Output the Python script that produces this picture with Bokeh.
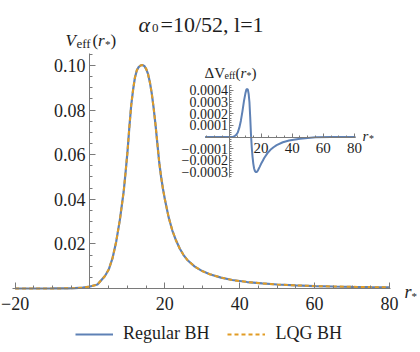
from bokeh.plotting import figure
from bokeh.models import (Range1d, LinearAxis, FixedTicker, Legend, LegendItem)
from bokeh.core.properties import value
from bokeh.embed import file_html
from bokeh.resources import INLINE

# ---------------- data ----------------
r_main = [-20, -15, -10, -6, -4, -2, 0, 2, 4, 5, 6, 7, 8, 9, 9.5, 10, 10.5, 11, 11.5,
          12, 12.5, 13, 13.5, 14, 14.5, 15, 15.5, 16, 16.5, 17, 17.5, 18, 18.5, 19,
          19.5, 20, 21, 22, 23, 24, 25, 26, 28, 30, 32, 35, 38, 42, 46, 50, 55, 60,
          65, 70, 75, 80]
v_regular = [0.0, 0.0, 0.00002, 0.00008, 0.00018, 0.0004, 0.0009, 0.0018, 0.0056,
             0.0085, 0.0135, 0.021, 0.031, 0.0435, 0.052, 0.061, 0.072, 0.082, 0.089,
             0.0945, 0.0978, 0.0993, 0.1, 0.1002, 0.0998, 0.0985, 0.0962, 0.0925,
             0.0875, 0.081, 0.0735, 0.065, 0.0565, 0.05, 0.0446, 0.04, 0.032, 0.026,
             0.0215, 0.0178, 0.015, 0.0128, 0.0098, 0.0078, 0.0064, 0.0049, 0.0038,
             0.0029, 0.0023, 0.0018, 0.0014, 0.0011, 0.0009, 0.00075, 0.00063, 0.00055]
# LQG curve coincides with the regular one at this scale
v_lqg = list(v_regular)

r_delta = [-16, -10, -5, 0, 2, 3, 4, 5, 6, 7, 8, 9, 10, 10.5, 11, 11.5, 12, 12.5, 13,
           13.5, 14, 14.5, 15, 15.5, 16, 16.5, 17, 17.5, 18, 19, 20, 21, 22, 24, 26,
           28, 30, 34, 38, 45, 55, 65, 80.7]
dv = [0.0, 0.0, 0.0, 0.0, 0.000003, 0.000008, 0.000018, 0.000038, 0.00008, 0.00014,
      0.00022, 0.00031, 0.00038, 0.000405, 0.000413, 0.000405, 0.00037, 0.0003,
      0.00017, 0.00002, -0.00009, -0.00017, -0.00023, -0.00027, -0.00029, -0.0003,
      -0.000301, -0.000296, -0.000285, -0.000258, -0.00023, -0.000205, -0.00018,
      -0.00014, -0.00011, -0.000088, -0.00007, -0.000045, -0.00003, -0.000015,
      -0.000003, 0.0, 0.0]

main_x_ticks = [-20, 20, 40, 60, 80]
main_x_labels = ["\u221220", "20", "40", "60", "80"]
main_y_ticks = [0.02, 0.04, 0.06, 0.08, 0.10]
main_y_labels = ["0.02", "0.04", "0.06", "0.08", "0.10"]
inset_x_ticks = [20, 40, 60, 80]
inset_x_labels = ["20", "40", "60", "80"]
inset_y_ticks = [-0.0003, -0.0002, -0.0001, 0.0001, 0.0002, 0.0003, 0.0004]
inset_y_labels = ["\u22120.0003", "\u22120.0002", "\u22120.0001", "0.0001", "0.0002",
                  "0.0003", "0.0004"]

BLUE = "#5E81B5"
ORANGE = "#E19C24"
AXIS = "#7a7a7a"
LABEL = "#1e1e1e"
SERIF = "Liberation Serif"

# ---------------- figure (page has no margin: frame == whole canvas) ----------------
W, H = 420, 346
p = figure(width=W, height=H, x_range=Range1d(-23.911, 88.30),
           y_range=Range1d(-0.026009, 0.129148), x_axis_type=None, y_axis_type=None,
           toolbar_location=None, output_backend="svg", min_border=0,
           outline_line_color=None, title=None)
p.extra_x_ranges = {"ix": Range1d(-147.59, 122.51), "px": Range1d(0, W)}
p.extra_y_ranges = {"iy": Range1d(-0.0017952, 0.0011697), "py": Range1d(H, 0)}


def make_axis(tick_in, minor_in, ticks, minor, **kw):
    return LinearAxis(
        ticker=FixedTicker(ticks=ticks, minor_ticks=minor),
        major_label_overrides={t: "" for t in ticks},
        axis_line_color=AXIS, major_tick_line_color=AXIS, minor_tick_line_color=AXIS,
        major_tick_in=tick_in, major_tick_out=0, minor_tick_in=minor_in,
        minor_tick_out=0, major_label_text_font_size="0px",
        major_label_text_alpha=0, major_label_standoff=0, **kw)


# main axes (axis lines + ticks); tick labels drawn below as serif text
x_minor = [v for v in range(-20, 81, 5) if v not in main_x_ticks]
p.add_layout(make_axis(6, 3, main_x_ticks, x_minor, fixed_location=0,
                       bounds=(-20.7, 80.3)), "below")
y_minor = [round(0.005 * k, 3) for k in range(0, 22)]
p.add_layout(make_axis(6, 3, main_y_ticks, y_minor, fixed_location=0,
                       bounds=(0, 0.1054)), "left")

# inset axes
ix_minor = [v for v in range(-15, 81, 5) if v not in inset_x_ticks]
p.add_layout(make_axis(4, 2, inset_x_ticks, ix_minor, x_range_name="ix",
                       y_range_name="iy", fixed_location=0, bounds=(-15.8, 80.7)),
             "below")
iy_minor = [round(0.00002 * k, 5) for k in range(-17, 23)]
p.add_layout(make_axis(4, 2, inset_y_ticks, iy_minor, x_range_name="ix",
                       y_range_name="iy", fixed_location=0,
                       bounds=(-0.000344, 0.00044)), "left")

# curves
r_reg = p.line(r_main, v_regular, color=BLUE, line_width=2.2)
r_lqg = p.line(r_main, v_lqg, color=ORANGE, line_width=2, line_dash="4 3")
p.line(r_delta, dv, x_range_name="ix", y_range_name="iy", color=BLUE, line_width=2)


def labels(xs, ys, texts, size, align, baseline, xr="default", yr="default"):
    p.text(x=xs, y=ys, text=texts, x_range_name=xr, y_range_name=yr,
           text_font=value(SERIF), text_font_size=size, text_color=LABEL,
           text_font_style="normal", text_align=align, text_baseline=baseline)


# tick labels positioned at the tick values through the scales
labels(main_x_ticks, [303] * len(main_x_ticks), main_x_labels, "18px", "center",
       "alphabetic", yr="py")
labels([85] * len(main_y_ticks), main_y_ticks, main_y_labels, "18px", "right",
       "middle", xr="px")
labels(inset_x_ticks, [147] * len(inset_x_ticks), inset_x_labels, "15px", "center",
       "alphabetic", xr="ix", yr="py")
labels([227.5] * len(inset_y_ticks), inset_y_ticks, inset_y_labels, "14px", "right",
       "middle", xr="px", yr="iy")


# texts (page-pixel coordinates)
def txt(x, y, s, size, italic=False):
    p.text(x=[x], y=[y], text=[s], x_range_name="px", y_range_name="py",
           text_font=value(SERIF), text_font_size=size,
           text_font_style="italic" if italic else "normal",
           text_color=LABEL, text_align="left", text_baseline="alphabetic")


# title  α0=10/52, l=1
txt(138, 23.5, "\u03b1", "22px", italic=True)
txt(151.5, 27, "0", "13px")
txt(160, 23.5, "=10/52, l=1", "22px")

# main y label  V_eff(r*)
txt(65, 40, "V", "17px", italic=True)
txt(76, 43, "eff", "13px")
txt(92, 40, "(", "17px")
txt(97.5, 40, "r", "17px", italic=True)
txt(104.5, 43, "*", "11px")
txt(110, 40, ")", "17px")

# main x label r*
txt(404, 291, "r", "18px", italic=True)
txt(411, 295, "*", "11px")

# inset y label  ΔV_eff(r*)
txt(204, 72, "\u0394V", "15px")
txt(224, 75, "eff", "10px")
txt(235, 72, "(", "15px")
txt(240, 72, "r", "15px", italic=True)
txt(246, 75, "*", "10px")
txt(251, 72, ")", "15px")

# inset x label r*
txt(362, 135, "r", "15px", italic=True)
txt(368.5, 138, "*", "10px")

legend = Legend(items=[LegendItem(label="Regular BH", renderers=[r_reg]),
                       LegendItem(label="LQG BH", renderers=[r_lqg])],
                orientation="horizontal", location=(75, 2), glyph_width=38,
                glyph_height=16, label_height=16, label_standoff=10, spacing=18,
                padding=0, margin=0, border_line_color=None,
                background_fill_alpha=0, label_text_font=SERIF,
                label_text_font_size="18px", label_text_color=LABEL)
p.add_layout(legend)

open("out.html", "w").write(file_html(p, INLINE))
